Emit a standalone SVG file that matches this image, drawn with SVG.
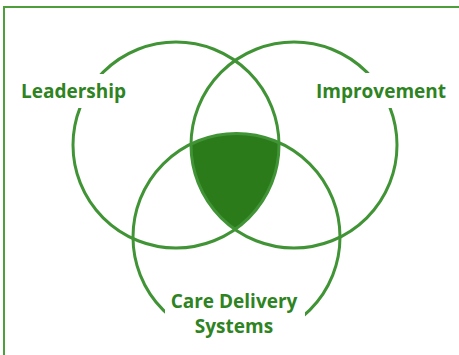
<svg xmlns="http://www.w3.org/2000/svg" width="459" height="355" viewBox="0 0 459 355">
  <style>
    .ring { fill: none; stroke: #419436; stroke-width: 3; }
    .label { font-family: "Open Sans", "Noto Sans", sans-serif; font-weight: bold; font-size: 19px; fill: #2e8322; }
    .mask { fill: #ffffff; }
  </style>
  <defs>
    <clipPath id="clipL"><circle cx="176" cy="145" r="103"/></clipPath>
    <clipPath id="clipR"><circle cx="294" cy="145" r="103"/></clipPath>
  </defs>
  <rect x="0" y="0" width="459" height="355" fill="#ffffff"/>
  <rect id="frame" x="4" y="7" width="470" height="360" fill="none" stroke="#4e9e3c" stroke-width="2"/>
  <g id="overlap">
    <g clip-path="url(#clipL)">
      <circle clip-path="url(#clipR)" cx="236.5" cy="237" r="103.5" fill="#2b7b1b"/>
    </g>
  </g>
  <g id="connectors">
    <circle id="circle-leadership" class="ring" cx="176" cy="145" r="103"/>
    <circle id="circle-improvement" class="ring" cx="294" cy="145" r="103"/>
    <circle id="circle-care" class="ring" cx="236.5" cy="237" r="103.5"/>
  </g>
  <g id="leadership">
    <rect class="mask" x="17" y="74" width="112" height="34"/>
    <text class="label" x="21" y="98">Leadership</text>
  </g>
  <g id="improvement">
    <rect class="mask" x="312" y="73" width="137" height="35"/>
    <text class="label" x="316" y="98">Improvement</text>
  </g>
  <g id="care-delivery-systems">
    <rect class="mask" x="165" y="290" width="140" height="60"/>
    <text class="label" x="234" y="308" text-anchor="middle">Care Delivery</text>
    <text class="label" x="234" y="333" text-anchor="middle">Systems</text>
  </g>
</svg>
